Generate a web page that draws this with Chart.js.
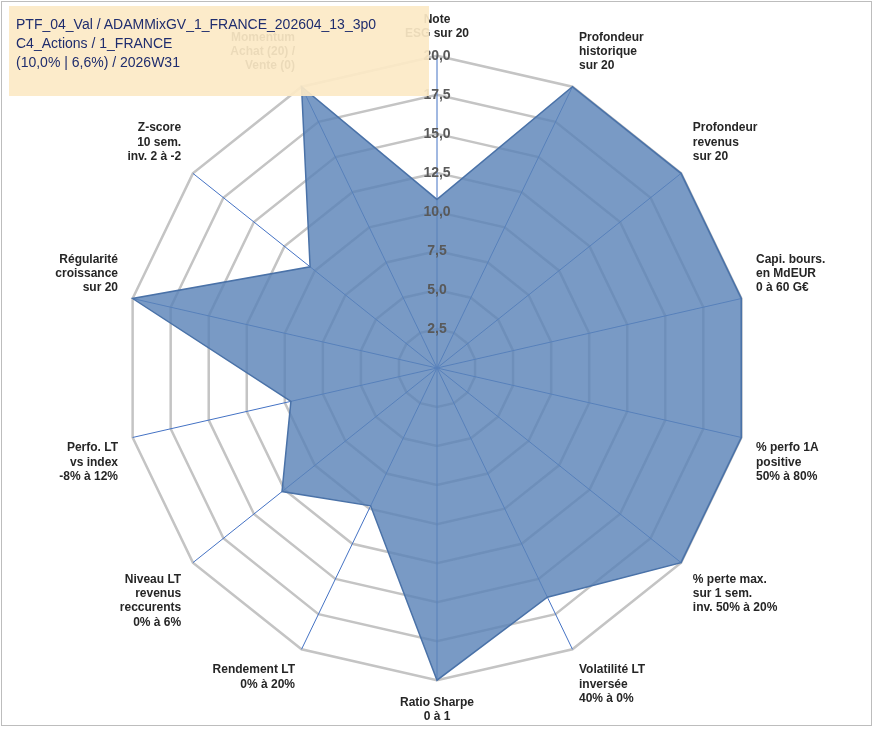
<!DOCTYPE html>
<html lang="fr">
<head>
<meta charset="UTF-8">
<title>Radar PTF_04_Val</title>
<script src="https://cdn.jsdelivr.net/npm/chart.js"></script>
<style>
  body { margin: 0; background: #fff; font-family: "Liberation Sans", Arial, sans-serif; }
  .cadre { position: absolute; left: 1px; top: 1px; width: 871px; height: 725px; border: 1px solid #bdbdbd; box-sizing: border-box; }
  .titre { position: absolute; left: 9px; top: 6px; width: 420px; height: 90px; background: rgba(252,233,198,0.92); z-index: 2; }
  .titre p { margin: 0; padding: 0 0 0 7px; font-size: 14px; line-height: 19px; color: #1f2d6e; }
  .titre p:first-child { padding-top: 9px; }
  .zone { position: absolute; left: 0; top: 0; width: 875px; height: 729px; }
</style>
</head>
<body>
<div class="cadre"></div>
<div class="titre">
  <p>PTF_04_Val / ADAMMixGV_1_FRANCE_202604_13_3p0</p>
  <p>C4_Actions / 1_FRANCE</p>
  <p>(10,0% | 6,6%) / 2026W31</p>
</div>
<div class="zone"><canvas id="radar" width="875" height="729"></canvas></div>

<script>
    // libellés des axes (sens horaire depuis le haut)
    var criteres = [
        ["Note", "ESG sur 20"],
        ["Profondeur", "historique", "sur 20"],
        ["Profondeur", "revenus", "sur 20"],
        ["Capi. bours.", "en MdEUR", "0 à 60 G€"],
        ["% perfo 1A", "positive", "50% à 80%"],
        ["% perte max.", "sur 1 sem.", "inv. 50% à 20%"],
        ["Volatilité LT", "inversée", "40% à 0%"],
        ["Ratio Sharpe", "0 à 1"],
        ["Rendement LT", "0% à 20%"],
        ["Niveau LT", "revenus", "reccurents", "0% à 6%"],
        ["Perfo. LT", "vs index", "-8% à 12%"],
        ["Régularité", "croissance", "sur 20"],
        ["Z-score", "10 sem.", "inv. 2 à -2"],
        ["Momentum", "Achat (20) /", "Vente (0)"]
    ];

    var notes = [10.8, 20, 20, 20, 20, 20, 16.3, 20, 9.8, 12.7, 9.6, 20, 10.4, 20];

    var graduations = [0, 2.5, 5, 7.5, 10, 12.5, 15, 17.5, 20];

    const ctx = document.getElementById('radar').getContext('2d');

    new Chart(ctx, {
        type: 'radar',
        data: {
            labels: criteres,
            datasets: [{
                label: 'Notes',
                data: notes,
                fill: true,
                backgroundColor: 'rgba(92,132,184,0.82)',
                borderColor: '#4a72a8',
                borderWidth: 1.5,
                pointRadius: 0
            }]
        },
        options: {
            responsive: false,
            animation: false,
            layout: { padding: { top: 12, bottom: 4, left: 10, right: 10 } },
            plugins: {
                legend: { display: false },
                tooltip: { enabled: false }
            },
            scales: {
                r: {
                    min: 0,
                    max: 20,
                    afterBuildTicks: function (axe) {
                        axe.ticks = graduations.map(function (v) { return { value: v }; });
                    },
                    ticks: {
                        showLabelBackdrop: false,
                        color: '#595959',
                        font: { family: 'Liberation Sans', size: 14, weight: 'bold' },
                        z: 2,
                        callback: function (v) { return v.toFixed(1).replace('.', ','); }
                    },
                    grid: { color: '#c4c4c4', lineWidth: 2.5 },
                    angleLines: { color: '#4472c4', lineWidth: 1 },
                    pointLabels: {
                        color: '#262626',
                        padding: 6,
                        font: { family: 'Liberation Sans', size: 12, weight: 'bold' }
                    }
                }
            }
        }
    });
</script>
</body>
</html>
